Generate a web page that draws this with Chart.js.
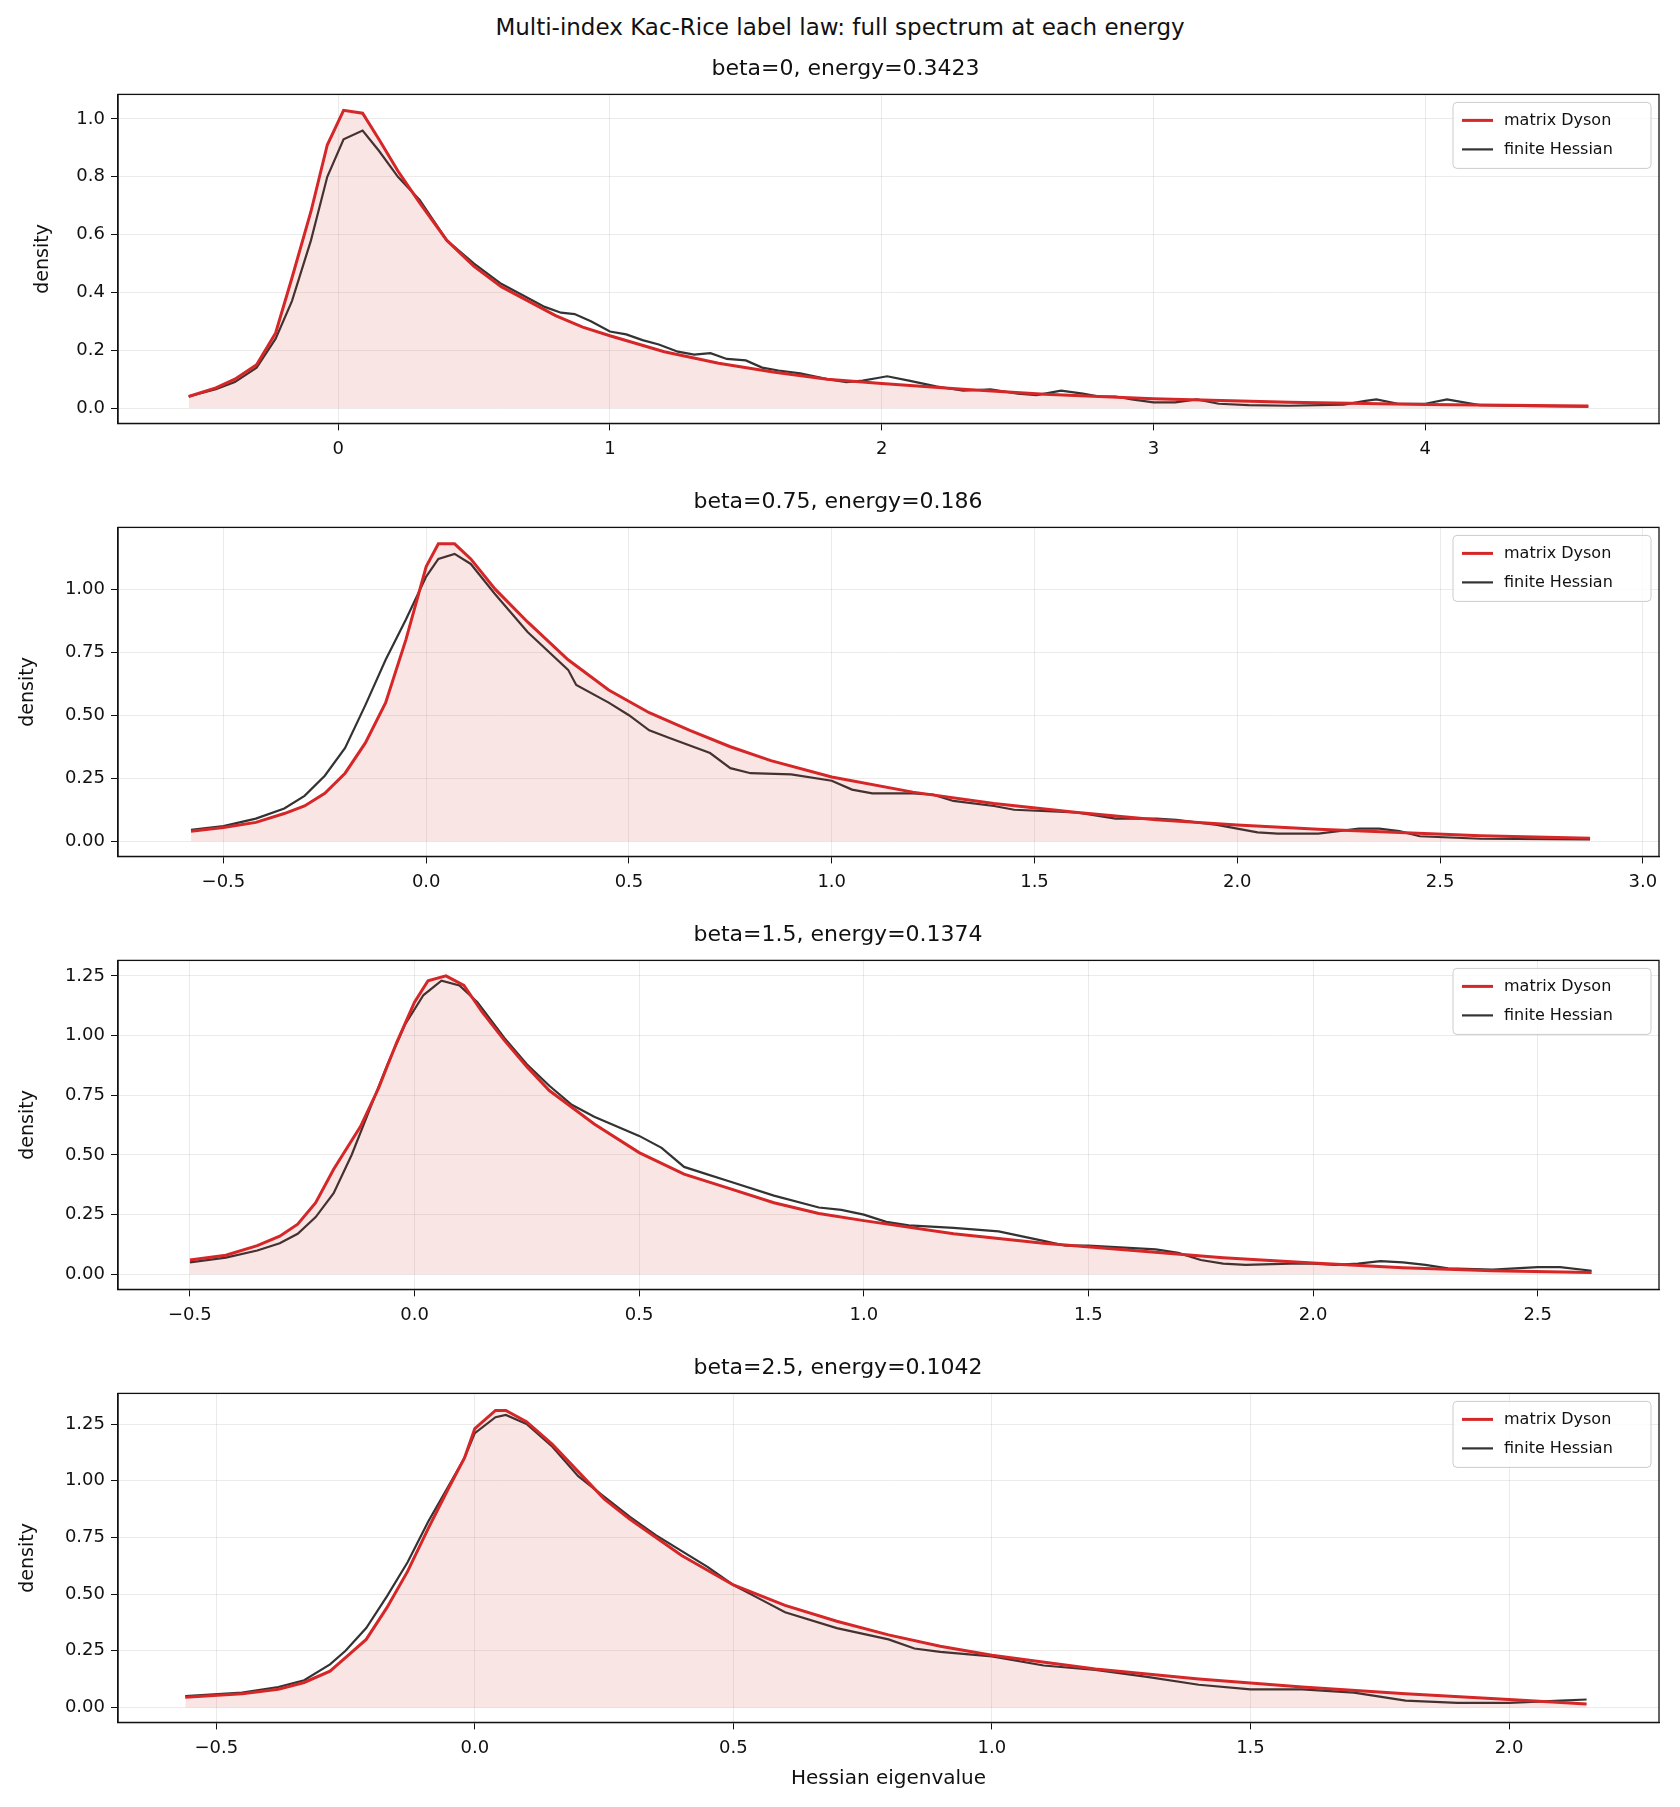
<!DOCTYPE html>
<html><head><meta charset="utf-8">
<script src="https://cdn.jsdelivr.net/npm/chart.js@4.4.1/dist/chart.umd.min.js"></script>
<style>
body{margin:0;background:#fff;width:1680px;height:1807px;position:relative;font-family:"DejaVu Sans",sans-serif}
#suptitle{position:absolute;top:14px;left:0;width:1680px;text-align:center;font-size:23px;color:#111}
.panel{position:absolute;left:0;width:1680px;height:412px}
#xlabel{position:absolute;top:1765px;left:118px;width:1541px;text-align:center;font-size:20px;color:#111}
</style></head><body>
<div id="suptitle">Multi-index Kac-Rice label law: full spectrum at each energy</div>
<div class="panel" style="top:56px"><canvas id="c0"></canvas></div>
<div class="panel" style="top:489px"><canvas id="c1"></canvas></div>
<div class="panel" style="top:922px"><canvas id="c2"></canvas></div>
<div class="panel" style="top:1355px"><canvas id="c3"></canvas></div>
<div id="xlabel">Hessian eigenvalue</div>
<script>
// ---------- data ----------
const titles = ["beta=0, energy=0.3423", "beta=0.75, energy=0.186", "beta=1.5, energy=0.1374", "beta=2.5, energy=0.1042"];

const dysonX0 = [-0.55,-0.45,-0.38,-0.3,-0.23,-0.17,-0.1,-0.04,0.02,0.09,0.15,0.22,0.3,0.4,0.5,0.6,0.7,0.8,0.9,1.0,1.2,1.4,1.6,1.8,2.0,2.3,2.6,3.0,3.5,4.0,4.6];
const dysonY0 = [0.04,0.07,0.10,0.15,0.26,0.45,0.68,0.91,1.03,1.02,0.93,0.82,0.71,0.58,0.49,0.42,0.37,0.32,0.28,0.25,0.195,0.155,0.125,0.10,0.085,0.065,0.048,0.032,0.02,0.012,0.007];
const hessX0 = [-0.55,-0.45,-0.38,-0.3,-0.23,-0.17,-0.1,-0.04,0.02,0.09,0.15,0.22,0.3,0.4,0.5,0.6,0.7,0.76,0.82,0.87,0.93,1.0,1.06,1.12,1.18,1.25,1.31,1.37,1.43,1.5,1.56,1.62,1.7,1.8,1.87,1.93,1.99,2.02,2.1,2.2,2.3,2.4,2.5,2.57,2.66,2.74,2.8,2.86,2.92,3.0,3.08,3.16,3.24,3.35,3.5,3.7,3.78,3.82,3.9,4.0,4.08,4.2,4.4,4.6];
const hessY0 = [0.04,0.065,0.09,0.14,0.24,0.37,0.58,0.80,0.93,0.96,0.89,0.80,0.72,0.58,0.50,0.43,0.38,0.35,0.33,0.325,0.30,0.265,0.255,0.235,0.22,0.195,0.185,0.19,0.17,0.165,0.14,0.13,0.12,0.10,0.09,0.095,0.105,0.11,0.095,0.075,0.06,0.065,0.05,0.045,0.06,0.05,0.04,0.04,0.03,0.02,0.02,0.03,0.015,0.01,0.008,0.012,0.025,0.03,0.015,0.015,0.03,0.01,0.007,0.005];

const dysonX1 = [-0.58,-0.5,-0.42,-0.35,-0.3,-0.25,-0.2,-0.15,-0.1,-0.05,0.0,0.03,0.07,0.11,0.17,0.25,0.35,0.45,0.55,0.65,0.75,0.85,1.0,1.2,1.4,1.6,1.8,2.0,2.2,2.4,2.6,2.87];
const dysonY1 = [0.04,0.055,0.075,0.11,0.14,0.19,0.27,0.39,0.55,0.80,1.09,1.18,1.18,1.12,1.0,0.87,0.72,0.60,0.51,0.44,0.375,0.32,0.255,0.195,0.15,0.115,0.085,0.065,0.048,0.035,0.022,0.012];
const hessX1 = [-0.58,-0.5,-0.42,-0.35,-0.3,-0.25,-0.2,-0.15,-0.1,-0.05,0.0,0.03,0.07,0.11,0.17,0.25,0.35,0.37,0.45,0.5,0.55,0.6,0.7,0.75,0.8,0.9,1.0,1.05,1.1,1.2,1.25,1.3,1.4,1.45,1.6,1.7,1.8,1.85,1.95,2.0,2.05,2.1,2.2,2.3,2.35,2.4,2.45,2.6,2.87];
const hessY1 = [0.045,0.06,0.09,0.13,0.18,0.26,0.37,0.54,0.72,0.88,1.05,1.12,1.14,1.10,0.98,0.83,0.68,0.62,0.55,0.50,0.44,0.41,0.35,0.29,0.27,0.265,0.24,0.205,0.19,0.19,0.185,0.16,0.14,0.125,0.115,0.09,0.09,0.085,0.065,0.05,0.035,0.03,0.03,0.05,0.05,0.04,0.02,0.01,0.007];

const dysonX2 = [-0.5,-0.42,-0.35,-0.3,-0.26,-0.22,-0.18,-0.12,-0.08,-0.04,0.0,0.03,0.07,0.11,0.15,0.2,0.25,0.3,0.35,0.4,0.5,0.6,0.7,0.8,0.9,1.0,1.2,1.4,1.6,1.8,2.0,2.2,2.4,2.62];
const dysonY2 = [0.06,0.08,0.12,0.16,0.21,0.3,0.44,0.62,0.78,0.97,1.14,1.23,1.25,1.21,1.1,0.98,0.87,0.77,0.7,0.63,0.51,0.42,0.36,0.3,0.255,0.225,0.17,0.13,0.1,0.07,0.048,0.028,0.015,0.008];
const hessX2 = [-0.5,-0.42,-0.35,-0.3,-0.26,-0.22,-0.18,-0.14,-0.1,-0.06,-0.02,0.02,0.06,0.1,0.14,0.2,0.25,0.3,0.35,0.4,0.5,0.55,0.6,0.65,0.7,0.8,0.9,0.95,1.0,1.05,1.1,1.2,1.3,1.4,1.45,1.5,1.6,1.65,1.7,1.75,1.8,1.85,1.95,2.0,2.05,2.1,2.15,2.2,2.25,2.3,2.4,2.5,2.55,2.62];
const hessY2 = [0.05,0.07,0.10,0.13,0.17,0.24,0.34,0.5,0.69,0.88,1.05,1.17,1.23,1.21,1.14,0.99,0.88,0.79,0.71,0.66,0.58,0.53,0.45,0.42,0.39,0.33,0.28,0.27,0.25,0.22,0.205,0.195,0.18,0.14,0.12,0.12,0.11,0.105,0.09,0.06,0.045,0.04,0.045,0.045,0.04,0.045,0.055,0.05,0.04,0.025,0.02,0.03,0.03,0.015];

const dysonX3 = [-0.56,-0.45,-0.38,-0.33,-0.28,-0.25,-0.21,-0.17,-0.13,-0.09,-0.05,-0.02,0.0,0.04,0.06,0.1,0.15,0.2,0.25,0.3,0.4,0.5,0.6,0.7,0.8,0.9,1.0,1.2,1.4,1.6,1.8,2.0,2.15];
const dysonY3 = [0.045,0.06,0.08,0.11,0.16,0.22,0.3,0.44,0.6,0.79,0.97,1.1,1.23,1.31,1.31,1.26,1.16,1.04,0.92,0.83,0.67,0.54,0.45,0.38,0.32,0.27,0.23,0.17,0.125,0.09,0.06,0.035,0.015];
const hessX3 = [-0.56,-0.45,-0.38,-0.33,-0.28,-0.25,-0.21,-0.17,-0.13,-0.09,-0.05,-0.02,0.0,0.04,0.06,0.1,0.15,0.2,0.25,0.3,0.35,0.45,0.5,0.55,0.6,0.7,0.8,0.85,0.9,1.0,1.1,1.2,1.3,1.4,1.5,1.6,1.7,1.8,1.9,2.0,2.1,2.15];
const hessY3 = [0.05,0.065,0.09,0.12,0.19,0.25,0.35,0.49,0.64,0.82,0.98,1.1,1.21,1.28,1.29,1.25,1.15,1.02,0.93,0.84,0.76,0.62,0.54,0.48,0.42,0.35,0.3,0.26,0.245,0.225,0.185,0.165,0.135,0.1,0.08,0.08,0.065,0.03,0.02,0.02,0.03,0.035];

const panels = [
  { dx: dysonX0, dy: dysonY0, hx: hessX0, hy: hessY0, xmin: -0.81, xmax: 4.86, xstep: 1, xdec: 0, ymin: -0.053, ymax: 1.085, ystep: 0.2, ydec: 1, padL: 32 },
  { dx: dysonX1, dy: dysonY1, hx: hessX1, hy: hessY1, xmin: -0.76, xmax: 3.04, xstep: 0.5, xdec: 1, ymin: -0.06, ymax: 1.245, ystep: 0.25, ydec: 2, padL: 17 },
  { dx: dysonX2, dy: dysonY2, hx: hessX2, hy: hessY2, xmin: -0.66, xmax: 2.77, xstep: 0.5, xdec: 1, ymin: -0.063, ymax: 1.315, ystep: 0.25, ydec: 2, padL: 17 },
  { dx: dysonX3, dy: dysonY3, hx: hessX3, hy: hessY3, xmin: -0.69, xmax: 2.29, xstep: 0.5, xdec: 1, ymin: -0.066, ymax: 1.385, ystep: 0.25, ydec: 2, padL: 17 },
];

const RED = "#d62728";
const DARK = "#333333";

// frame around plot + legend inside, top right
const insideLegend = {
  id: "insideLegend",
  afterDraw(chart) {
    const { ctx, chartArea } = chart;
    ctx.save();
    ctx.strokeStyle = "#111"; ctx.lineWidth = 1.3;
    ctx.strokeRect(chartArea.left, chartArea.top, chartArea.right - chartArea.left, chartArea.bottom - chartArea.top);
    const w = 198, h = 66;
    const x = chartArea.right - w - 8, y = chartArea.top + 8;
    ctx.fillStyle = "rgba(255,255,255,0.8)";
    ctx.strokeStyle = "#cccccc";
    ctx.lineWidth = 1;
    ctx.beginPath();
    ctx.roundRect(x, y, w, h, 4);
    ctx.fill(); ctx.stroke();
    const items = [["matrix Dyson", RED, 3], ["finite Hessian", DARK, 2.2]];
    ctx.font = '16px "DejaVu Sans"';
    ctx.textBaseline = "middle";
    items.forEach(([label, col, lw], i) => {
      const yy = y + 18 + i * 29;
      ctx.strokeStyle = col; ctx.lineWidth = lw;
      ctx.beginPath(); ctx.moveTo(x + 9, yy); ctx.lineTo(x + 40, yy); ctx.stroke();
      ctx.fillStyle = "#111"; ctx.fillText(label, x + 51, yy);
    });
    ctx.restore();
  },
};

function toPts(xs, ys) {
  return xs.map((x, i) => ({ x, y: ys[i] }));
}

panels.forEach((p, i) => {
  new Chart(document.getElementById("c" + i), {
    type: "line",
    data: {
      datasets: [
        { data: toPts(p.dx, p.dy), borderColor: RED, borderWidth: 3, fill: "origin",
          backgroundColor: "rgba(214,39,40,0.12)", pointRadius: 0, tension: 0 },
        { data: toPts(p.hx, p.hy), borderColor: DARK, borderWidth: 2.2, fill: false,
          pointRadius: 0, tension: 0 },
      ],
    },
    options: {
      responsive: true, maintainAspectRatio: false, animation: false,
      layout: { padding: { left: p.padL, right: 21, top: 0, bottom: 0 } },
      plugins: {
        legend: { display: false }, tooltip: { enabled: false },
        title: { display: true, text: titles[i], color: "#111",
                 font: { family: "DejaVu Sans", size: 22, weight: "normal" }, padding: { top: 0, bottom: 12 } },
      },
      scales: {
        x: {
          type: "linear", min: p.xmin, max: p.xmax,
          afterBuildTicks: (ax) => {
            const t = [];
            for (let v = Math.ceil(p.xmin / p.xstep) * p.xstep; v <= p.xmax + 1e-9; v += p.xstep) t.push({ value: +v.toFixed(4) });
            ax.ticks = t;
          },
          ticks: { color: "#111", font: { family: "DejaVu Sans", size: 18 }, padding: 8,
                   callback: (v) => (v < 0 ? "\u2212" : "") + Math.abs(v).toFixed(p.xdec) },
          grid: { color: "rgba(0,0,0,0.08)", drawTicks: true, tickLength: 7, tickColor: "#111" },
          border: { color: "#111", width: 1.3 },
        },
        y: {
          min: p.ymin, max: p.ymax,
          afterFit: (ax) => { ax.width = 118 - p.padL; },
          afterBuildTicks: (ax) => {
            const t = [];
            for (let v = 0; v <= p.ymax + 1e-9; v += p.ystep) t.push({ value: +v.toFixed(4) });
            ax.ticks = t;
          },
          ticks: { color: "#111", font: { family: "DejaVu Sans", size: 18 }, padding: 6,
                   callback: (v) => v.toFixed(p.ydec) },
          grid: { color: "rgba(0,0,0,0.08)", tickLength: 7, tickColor: "#111" },
          border: { color: "#111", width: 1.3 },
          title: { display: true, text: "density", color: "#111",
                   font: { family: "DejaVu Sans", size: 19 }, padding: 0 },
        },
      },
    },
    plugins: [insideLegend],
  });
});
</script>
</body></html>
